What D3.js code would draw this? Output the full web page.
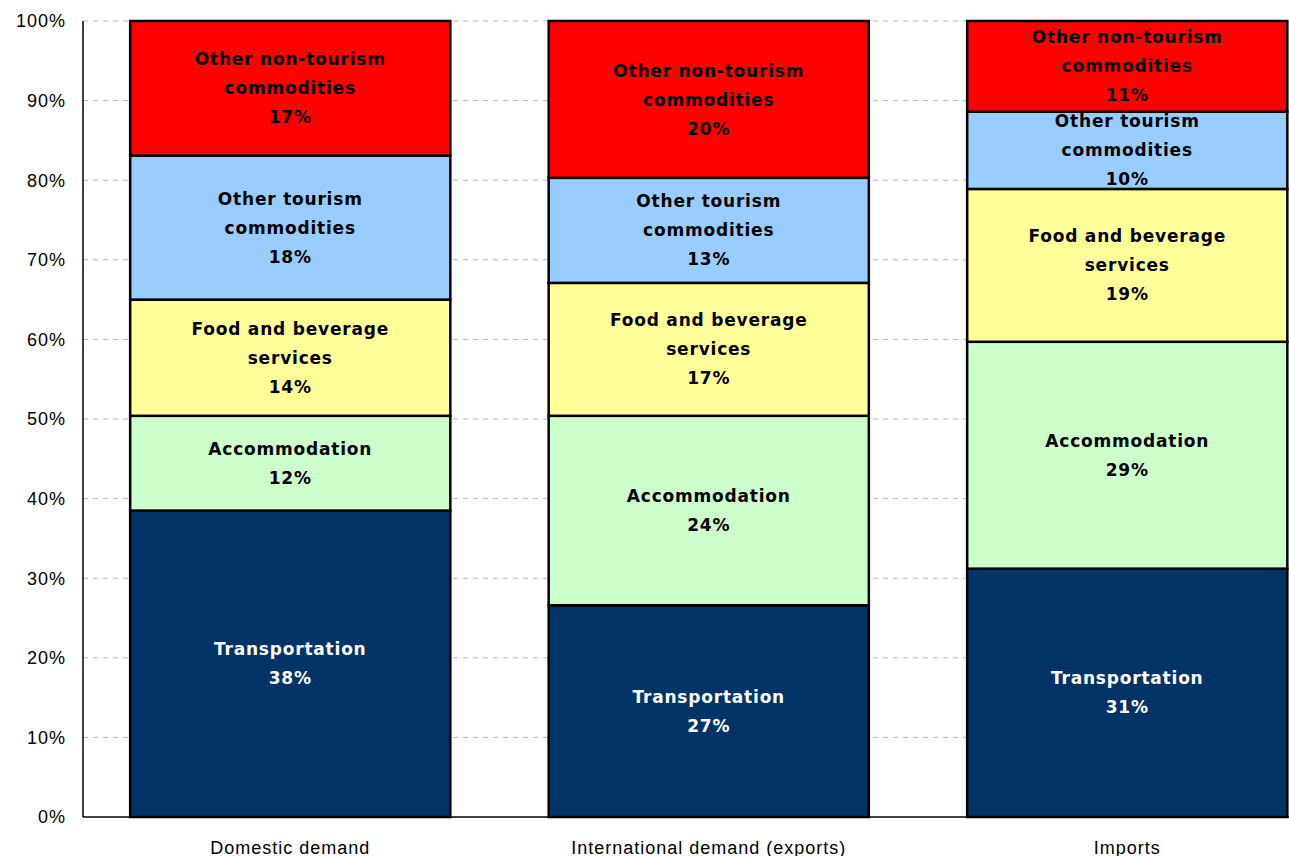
<!DOCTYPE html>
<html lang="en">
<head>
<meta charset="UTF-8">
<title>Tourism demand by commodity</title>
<script src="https://d3js.org/d3.v7.min.js"></script>
<style>
  body { margin: 0; background: #ffffff; }
  .tick-label { font-family: "Liberation Sans", Arial, sans-serif; font-size: 18px; letter-spacing: 1px; fill: #000; }
  .seg-label { font-family: "DejaVu Sans", Verdana, sans-serif; font-weight: bold; font-size: 17px; letter-spacing: 0.8px; }
</style>
</head>
<body>
<svg id="chart" width="1289" height="856"></svg>
<script>

// categories along the x axis
let categories = ['Domestic demand', 'International demand (exports)', 'Imports'];

// stacked series, bottom to top (percent shares)
let seriesNames = ['Transportation', 'Accommodation', 'Food and beverage services',
                   'Other tourism commodities', 'Other non-tourism commodities'];
let transportation = [38.5, 26.6, 31.2];
let accommodation  = [11.9, 23.8, 28.5];
let foodBeverage   = [14.6, 16.7, 19.2];
let otherTourism   = [18.1, 13.2, 9.7];
let otherNonTourism = [16.9, 19.7, 11.4];

// printed labels inside the bars
let labelLines = [
  ['Transportation'],
  ['Accommodation'],
  ['Food and beverage', 'services'],
  ['Other tourism', 'commodities'],
  ['Other non-tourism', 'commodities']
];
let shownPct = [
  [38, 27, 31],
  [12, 24, 29],
  [14, 17, 19],
  [18, 13, 10],
  [17, 20, 11]
];

let yTicks = [0, 10, 20, 30, 40, 50, 60, 70, 80, 90, 100];

let colours = ['#003366', '#ccffcc', '#ffff99', '#99ccff', '#ff0000'];
let textColours = ['#ffffff', '#000000', '#000000', '#000000', '#000000'];

let seriesValues = [transportation, accommodation, foodBeverage, otherTourism, otherNonTourism];

let rows = categories.map(function(c, i) {
  let r = { category: c };
  seriesNames.forEach(function(s, k) { r[s] = seriesValues[k][i]; });
  return r;
});

let stack = d3.stack().keys(seriesNames);
let stacked = stack(rows);

let svg = d3.select('#chart');
let axisX = 83;
let plotTop = 21, plotBottom = 817;

let x = d3.scaleBand()
  .domain(categories)
  .range([81, 81 + 3 * 418.5])
  .paddingInner(0.235)
  .paddingOuter(0.1175);

let y = d3.scaleLinear().domain([0, 100]).range([plotBottom, plotTop]);

// dashed grid lines
svg.append('g')
  .selectAll('line')
  .data(yTicks.filter(function(t) { return t > 0; }))
  .enter().append('line')
  .attr('x1', axisX).attr('x2', 1289)
  .attr('y1', function(d) { return y(d); })
  .attr('y2', function(d) { return y(d); })
  .style('stroke', '#b8b8b8')
  .style('stroke-width', 1)
  .style('stroke-dasharray', '5,5');

// y axis tick labels
svg.append('g')
  .selectAll('text')
  .data(yTicks)
  .enter().append('text')
  .attr('class', 'tick-label')
  .attr('x', 66)
  .attr('y', function(d) { return y(d); })
  .attr('dy', '0.36em')
  .attr('text-anchor', 'end')
  .text(function(d) { return d + '%'; });

// bars
let layers = svg.append('g').selectAll('g')
  .data(stacked)
  .enter().append('g');

layers.selectAll('rect')
  .data(function(d) { return d.map(function(p) { return { key: d.key, index: d.index, p: p }; }); })
  .enter().append('rect')
  .attr('x', function(d) { return x(d.p.data.category); })
  .attr('width', x.bandwidth())
  .attr('y', function(d) { return y(d.p[1]); })
  .attr('height', function(d) { return y(d.p[0]) - y(d.p[1]); })
  .style('fill', function(d) { return colours[d.index]; })
  .style('stroke', '#000000')
  .style('stroke-width', 2.5);

// segment labels
let lineGap = 29;
layers.selectAll('text')
  .data(function(d) { return d.map(function(p, i) { return { index: d.index, cat: i, p: p }; }); })
  .enter().append('text')
  .attr('class', 'seg-label')
  .attr('text-anchor', 'middle')
  .style('fill', function(d) { return textColours[d.index]; })
  .each(function(d) {
    let lines = labelLines[d.index].concat([shownPct[d.index][d.cat] + '%']);
    let cx = x(d.p.data.category) + x.bandwidth() / 2;
    let cy = (y(d.p[0]) + y(d.p[1])) / 2;
    let startY = cy - (lines.length - 1) * lineGap / 2;
    d3.select(this).selectAll('tspan')
      .data(lines)
      .enter().append('tspan')
      .attr('x', cx)
      .attr('y', function(l, i) { return startY + i * lineGap; })
      .attr('dy', '0.36em')
      .text(function(l) { return l; });
  });

// axis lines
svg.append('line')
  .attr('x1', axisX).attr('x2', axisX)
  .attr('y1', plotTop).attr('y2', plotBottom)
  .style('stroke', '#000').style('stroke-width', 1.5);
svg.append('line')
  .attr('x1', axisX).attr('x2', 1289)
  .attr('y1', plotBottom).attr('y2', plotBottom)
  .style('stroke', '#000').style('stroke-width', 1.5);

// category labels
svg.append('g')
  .selectAll('text')
  .data(categories)
  .enter().append('text')
  .attr('class', 'tick-label')
  .attr('x', function(d) { return x(d) + x.bandwidth() / 2; })
  .attr('y', 848)
  .attr('dy', '0.36em')
  .attr('text-anchor', 'middle')
  .text(function(d) { return d; });

</script>
</body>
</html>
